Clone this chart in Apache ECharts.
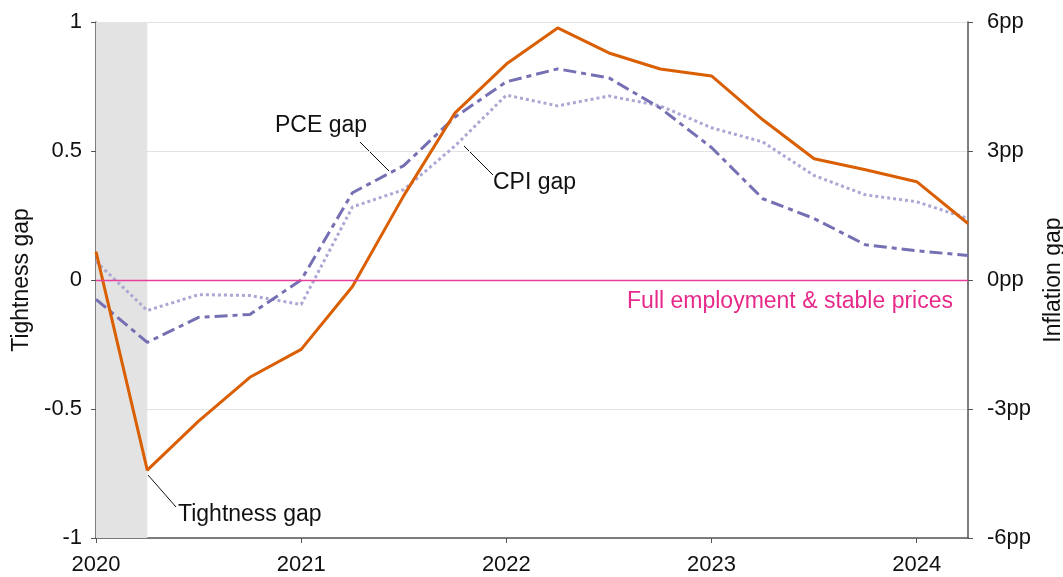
<!DOCTYPE html>
<html lang="en">
<head>
    <meta charset="UTF-8">
    <title>Tightness and inflation gaps</title>
    <style>
        * { padding: 0; margin: 0; }
        body, html { width: 100%; height: 100%; background: #fff; }
        #main { width: 1063px; height: 577px; }
    </style>
</head>
<body>
    <div id="main"></div>
    <script src="https://cdn.jsdelivr.net/npm/echarts@6/dist/echarts.min.js"></script>
    <script>
        // quarters 2020Q1 .. 2024Q2
        var quarters = ['2020Q1', '2020Q2', '2020Q3', '2020Q4',
            '2021Q1', '2021Q2', '2021Q3', '2021Q4',
            '2022Q1', '2022Q2', '2022Q3', '2022Q4',
            '2023Q1', '2023Q2', '2023Q3', '2023Q4',
            '2024Q1', '2024Q2'];
        // left axis (index)
        var tightnessGap = [0.11, -0.737, -0.547, -0.377, -0.269, -0.025, 0.327, 0.648,
            0.837, 0.977, 0.88, 0.818, 0.791, 0.621, 0.47, 0.427, 0.381, 0.219];
        // right axis (percentage points)
        var pceGap = [-0.45, -1.45, -0.87, -0.8, 0, 2.03, 2.66, 3.79,
            4.61, 4.91, 4.7, 4.0, 3.08, 1.89, 1.43, 0.82, 0.68, 0.57];
        var cpiGap = [0.43, -0.71, -0.34, -0.36, -0.57, 1.7, 2.1, 3.12,
            4.3, 4.05, 4.28, 4.05, 3.54, 3.21, 2.43, 1.98, 1.82, 1.43];
        var recession = ['2020Q1', '2020Q2'];

        var FONT = 'Liberation Sans, Arial, sans-serif';
        var isQ1 = function (i, v) { return v.slice(4) === 'Q1'; };

        var myChart = echarts.init(document.getElementById('main'));
        var option = {
            animation: false,
            textStyle: { fontFamily: FONT },
            grid: { left: 96, right: 95, top: 22, bottom: 39, outerBoundsMode: 'none', containLabel: false },
            xAxis: {
                type: 'category',
                data: quarters,
                boundaryGap: false,
                axisLine: { onZero: false, lineStyle: { color: '#555', width: 1.5 } },
                axisTick: { interval: isQ1, length: 5, lineStyle: { color: '#555' } },
                axisLabel: {
                    interval: isQ1,
                    formatter: function (v) { return v.slice(0, 4); },
                    color: '#111', fontSize: 22, margin: 16
                },
                splitLine: { show: false }
            },
            yAxis: [{
                type: 'value',
                min: -1, max: 1, interval: 0.5,
                name: 'Tightness gap',
                nameLocation: 'middle',
                nameGap: 61,
                nameRotate: 90,
                nameTextStyle: { color: '#111', fontSize: 23 },
                axisLine: { show: true, lineStyle: { color: '#555', width: 1.5 } },
                axisTick: { show: true, length: 5, lineStyle: { color: '#555' } },
                axisLabel: { color: '#111', fontSize: 22, margin: 14 },
                splitLine: { lineStyle: { color: '#e2e2e2', width: 1 } }
            }, {
                type: 'value',
                min: -6, max: 6, interval: 3,
                name: 'Inflation gap',
                nameLocation: 'middle',
                nameGap: 72,
                nameRotate: 90,
                nameTextStyle: { color: '#111', fontSize: 23 },
                axisLine: { show: true, lineStyle: { color: '#555', width: 1.5 } },
                axisTick: { show: true, length: 5, lineStyle: { color: '#555' } },
                axisLabel: { color: '#111', fontSize: 22, margin: 19, formatter: '{value}pp' },
                splitLine: { show: false }
            }],
            series: [{
                name: 'CPI gap',
                type: 'line',
                yAxisIndex: 1,
                data: cpiGap,
                symbol: 'none',
                lineStyle: { color: '#aba8d3', width: 3, type: [3, 3] },
                markArea: {
                    silent: true,
                    itemStyle: { color: '#e3e3e3' },
                    data: [[{ xAxis: recession[0] }, { xAxis: recession[1] }]]
                },
                z: 2
            }, {
                name: 'PCE gap',
                type: 'line',
                yAxisIndex: 1,
                data: pceGap,
                symbol: 'none',
                lineStyle: { color: '#7570b3', width: 3, type: [13, 5, 5, 5] },
                z: 3
            }, {
                name: 'Tightness gap',
                type: 'line',
                yAxisIndex: 0,
                data: tightnessGap,
                symbol: 'none',
                lineStyle: { color: '#d95f02', width: 3 },
                markLine: {
                    silent: true,
                    symbol: 'none',
                    lineStyle: { color: '#e8409a', width: 1.4, type: 'solid' },
                    label: {
                        position: 'insideEndBottom',
                        formatter: 'Full employment & stable prices',
                        color: '#e7298a',
                        fontSize: 23,
                        distance: [15, 10]
                    },
                    data: [{ yAxis: 0 }]
                },
                z: 4
            }],
            graphic: [
                { type: 'text', left: 275, top: 114, style: { text: 'PCE gap', font: '23px ' + FONT, fill: '#111' } },
                { type: 'line', shape: { x1: 360, y1: 142, x2: 389, y2: 171 }, style: { stroke: '#111', lineWidth: 1 } },
                { type: 'text', left: 493, top: 171, style: { text: 'CPI gap', font: '23px ' + FONT, fill: '#111' } },
                { type: 'line', shape: { x1: 464, y1: 146, x2: 493, y2: 175 }, style: { stroke: '#111', lineWidth: 1 } },
                { type: 'text', left: 178, top: 503, style: { text: 'Tightness gap', font: '23px ' + FONT, fill: '#111' } },
                { type: 'line', shape: { x1: 148, y1: 475, x2: 176, y2: 507 }, style: { stroke: '#111', lineWidth: 1 } }
            ]
        };
        myChart.setOption(option);
    </script>
</body>
</html>
